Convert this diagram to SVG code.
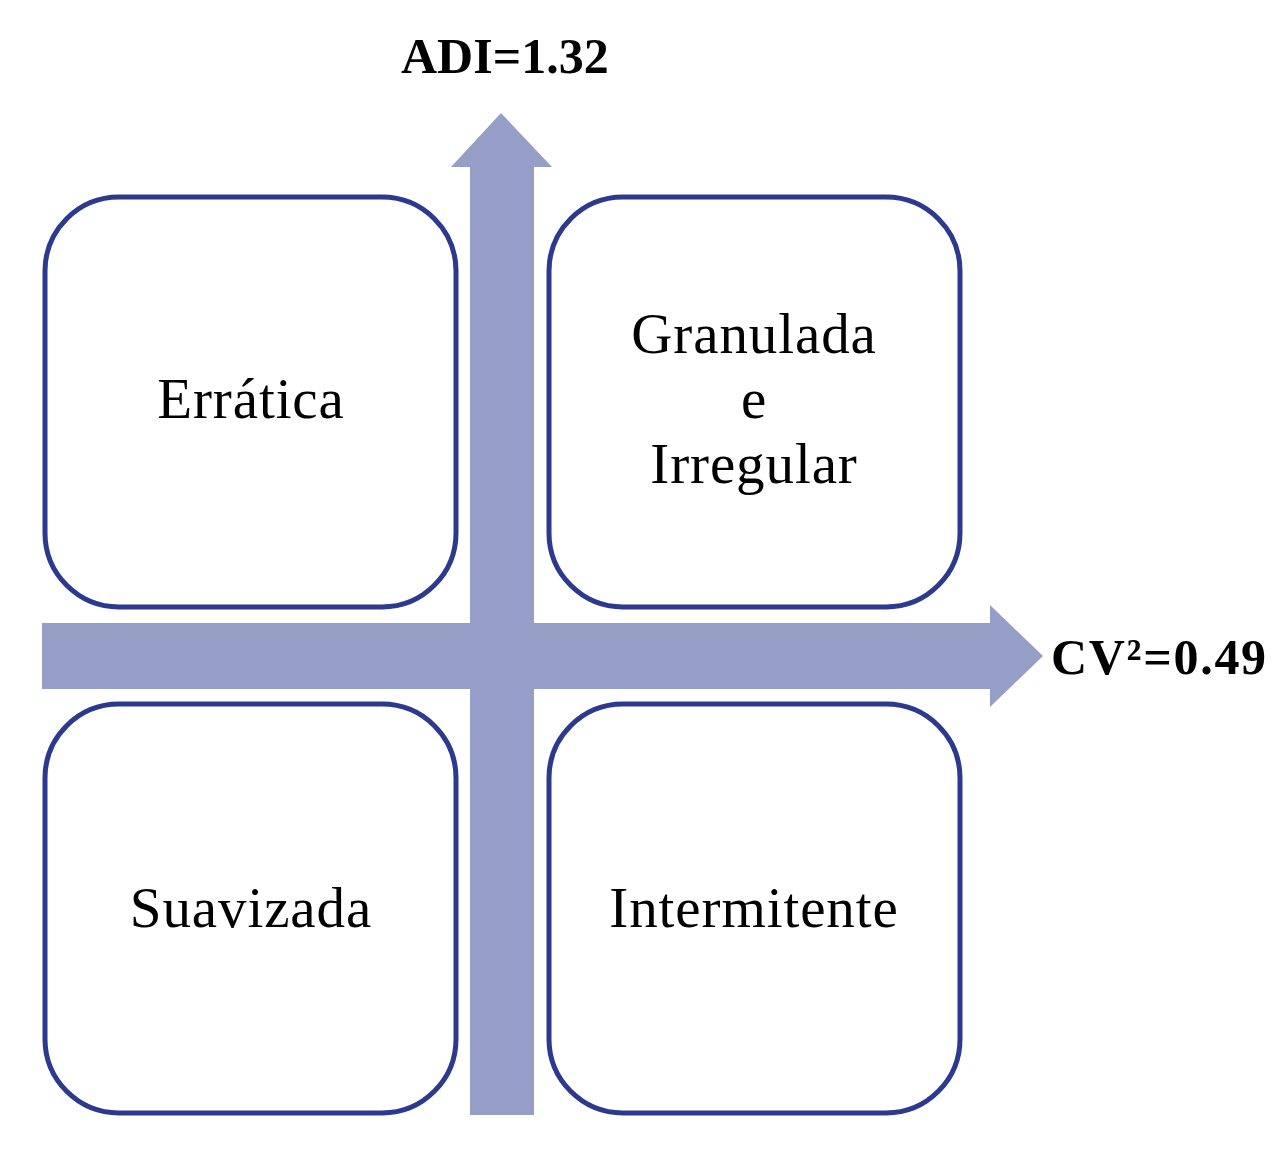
<svg xmlns="http://www.w3.org/2000/svg" width="1286" height="1176" viewBox="0 0 1286 1176">
<style>
.box{fill:#ffffff;stroke:#2b3a8f;stroke-width:5}
.lbl{font-family:"Liberation Serif","DejaVu Serif",serif;font-size:57px;letter-spacing:0.9px;fill:#000;text-anchor:middle}
.ax{font-family:"Liberation Serif","DejaVu Serif",serif;font-size:50px;font-weight:bold;fill:#000}
.arrow{fill:#959ec6}
</style>
<rect width="1286" height="1176" fill="#ffffff"/>
<g id="connectors">
<path class="arrow" d="M42,623 H990 V605 L1043,656 L990,707 V689 H42 Z"/>
<path class="arrow" d="M470,1115 V167 H451 L501,113 L552,167 H534 V1115 Z"/>
</g>
<g id="erratica">
<rect class="box" x="45" y="197" width="411" height="410" rx="74"/>
<text class="lbl" x="251" y="418">Errática</text>
</g>
<g id="granulada">
<rect class="box" x="549" y="197" width="411" height="410" rx="74"/>
<text class="lbl" x="754" y="353">Granulada</text>
<text class="lbl" x="754" y="418">e</text>
<text class="lbl" x="754" y="483">Irregular</text>
</g>
<g id="suavizada">
<rect class="box" x="45" y="704" width="411" height="409" rx="74"/>
<text class="lbl" x="251" y="927">Suavizada</text>
</g>
<g id="intermitente">
<rect class="box" x="549" y="704" width="411" height="409" rx="74"/>
<text class="lbl" x="754" y="927">Intermitente</text>
</g>
<g id="axis-labels">
<text class="ax" x="401" y="73">ADI=1.32</text>
<text class="ax" x="1051" y="674" letter-spacing="1.7">CV²=0.49</text>
</g>
</svg>
